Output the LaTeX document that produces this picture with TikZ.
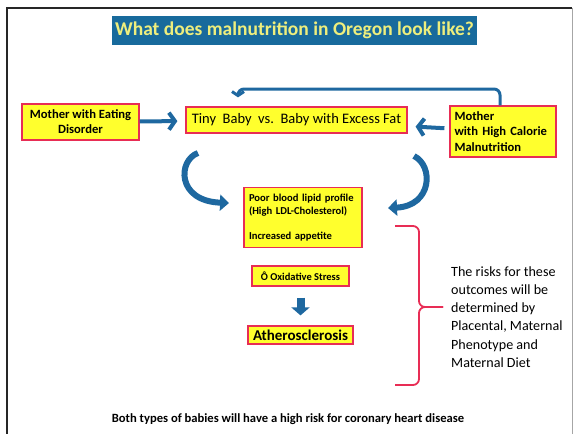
\documentclass[tikz,border=0pt]{standalone}
\usepackage{fontspec}
\setmainfont{Carlito}
\usetikzlibrary{arrows.meta}

\definecolor{boxyellow}{RGB}{255,255,45}
\definecolor{boxred}{RGB}{232,45,85}
\definecolor{arrowblue}{RGB}{30,104,160}
\definecolor{titleblue}{RGB}{24,106,156}
\definecolor{titletext}{RGB}{238,238,125}

\tikzset{
  ybox/.style={draw=boxred, fill=boxyellow, line width=1.2pt, inner sep=0pt},
  link/.style={draw=arrowblue, line width=4pt, -{Straight Barb[length=6pt,width=17pt]}},
  curvy/.style={draw=arrowblue, line width=6pt, -{Triangle[length=9pt,width=16pt]}},
  blockdown/.style={draw=arrowblue, line width=8pt, -{Triangle[length=8pt,width=18pt]}},
  riskbrace/.style={draw=boxred, line width=1.8pt, rounded corners=6pt}
}

\begin{document}
\begin{tikzpicture}[x=1pt,y=-1pt]

\useasboundingbox (0,0) rectangle (574,434);

% frame of the slide
\draw[line width=1.8pt, black!85] (7,434) -- (7,8) -- (572,8);
\draw[line width=0.6pt, black!35] (572,8) -- (572,434);

% title bar
\node[fill=titleblue, minimum width=365pt, minimum height=29pt, inner sep=0pt,
      text=titletext, font=\fontsize{19.5}{22}\selectfont\bfseries]
  (title) at (294.5,30.5) {What does malnutrition in Oregon look like?};

% TOP ROW
\node[ybox, minimum width=117pt, minimum height=36pt, align=center,
      font=\fontsize{12.6}{15}\selectfont\bfseries]
  (eating) at (80.5,122) {Mother with Eating\\Disorder};
\node[ybox, minimum width=221pt, minimum height=26pt,
      font=\fontsize{14.5}{16}\selectfont]
  (tiny) at (296.5,120) {Tiny\ \ Baby\ \ vs.\ \ Baby with Excess Fat};
\node[ybox, minimum width=106pt, minimum height=51pt, text width=97pt, align=left,
      font=\fontsize{12.6}{15.5}\selectfont\bfseries]
  (calorie) at (503,131.5) {Mother\\with High Calorie\\Malnutrition};

% arrows into the babies box
\draw[link, shorten >=8pt] (eating) -- (tiny);
\draw[link, shorten <=5pt, shorten >=8pt] (calorie) -- (tiny);

% loop from the right mother over the top
\coordinate (loopR) at (500,89);
\coordinate (loopL) at (238,89);
\draw[link, line width=3pt, -{Straight Barb[length=4pt,width=12pt]}, rounded corners=6pt,
      shorten >=9pt]
  (calorie.north -| loopR) -- (loopR) -- (loopL) -- (tiny.north -| loopL);

% OUTCOMES
\node[ybox, minimum width=118pt, minimum height=60pt, text width=108pt, align=left,
      font=\fontsize{10.6}{12.5}\selectfont\bfseries]
  (lipid) at (303,217.5) {Poor blood lipid profile\\(High LDL-Cholesterol)\\[12.5pt]Increased appetite};
\node[ybox, minimum width=97pt, minimum height=20pt,
      font=\fontsize{10.5}{12}\selectfont\bfseries]
  (oxy) at (300.5,276) {Ô Oxidative Stress};
\node[ybox, minimum width=105pt, minimum height=18pt,
      font=\fontsize{15}{17}\selectfont\bfseries]
  (athero) at (300.5,335) {Atherosclerosis};

% curved arrows down to the outcomes
\coordinate (curveL) at (198,153);
\coordinate (tipL) at (229,203);
\coordinate (curveR) at (414,156);
\coordinate (tipR) at (388,208);
\draw[curvy] (curveL) .. controls (178,160) and (176,201) .. (tipL);
\draw[curvy] (curveR) .. controls (434,166) and (432,206) .. (tipR);

% block arrow
\draw[blockdown, shorten <=11pt, shorten >=10pt] (oxy) -- (athero);

% RISKS
\node[anchor=west, inner sep=0pt, align=left, font=\fontsize{14.1}{18.3}\selectfont]
  (risks) at (451,317) {The risks for these\\outcomes will be\\determined by\\Placental, Maternal\\Phenotype and\\Maternal Diet};

% bracket
\coordinate (braceTop) at (395,226);
\coordinate (braceBot) at (395,385);
\coordinate (braceMid) at (419,307);
\coordinate (braceTip) at (443,307);
\draw[riskbrace] (braceTop) -| (braceMid) -- (braceTip);
\draw[riskbrace] (braceBot) -| (braceMid) -- (braceTip);

% bottom line
\node[font=\fontsize{12.6}{14}\selectfont\bfseries]
  (note) at (288,419) {Both types of babies will have a high risk for coronary heart disease};

\end{tikzpicture}
\end{document}
